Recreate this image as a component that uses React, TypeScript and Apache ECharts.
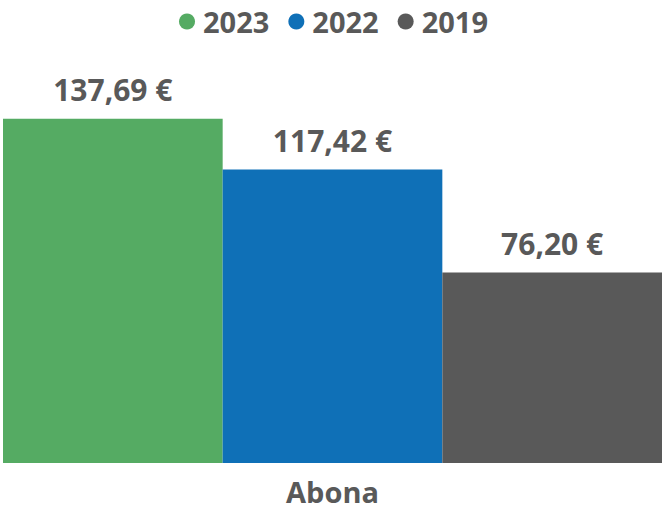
import React, { useEffect, useRef } from "react";
import * as echarts from "echarts";

const categories = ["Abona"];
const seriesNames = ["2023", "2022", "2019"];
const values2023 = [137.69];
const values2022 = [117.42];
const values2019 = [76.2];
const colors = ["#55AB63", "#0F70B7", "#595959"];
const textColor = "#595959";
const font = "'Open Sans', 'DejaVu Sans', sans-serif";

const fmt = (v: number) => v.toFixed(2).replace(".", ",") + " €";

export default function App() {
  const ref = useRef<HTMLDivElement>(null);
  useEffect(() => {
    if (!ref.current) return;
    const chart = echarts.init(ref.current, null, { renderer: "svg" });
    const data = [values2023, values2022, values2019];
    chart.setOption({
      animation: false,
      legend: {
        top: 2,
        left: "center",
        icon: "circle",
        itemWidth: 16,
        itemHeight: 16,
        itemGap: 19,
        textStyle: {
          color: textColor,
          fontSize: 29,
          fontWeight: "bold",
          fontFamily: font,
          padding: [0, 0, 0, 3],
        },
        data: seriesNames,
      },
      grid: { left: 3, right: 5, top: 63, bottom: 49, containLabel: false },
      xAxis: {
        type: "category",
        data: categories,
        axisLine: { show: false },
        axisTick: { show: false },
        axisLabel: {
          color: textColor,
          fontSize: 29,
          fontWeight: "bold",
          fontFamily: font,
          margin: 14,
        },
      },
      yAxis: {
        type: "value",
        min: 0,
        max: 160,
        show: false,
        splitLine: { show: false },
      },
      series: seriesNames.map((name, i) => ({
        name,
        type: "bar",
        data: data[i],
        barGap: "0%",
        barCategoryGap: "0%",
        itemStyle: { color: colors[i] },
        label: {
          show: true,
          position: "top",
          distance: 14,
          color: textColor,
          fontSize: 30,
          fontWeight: "bold",
          fontFamily: font,
          formatter: (p: any) => fmt(p.value),
        },
      })),
    });
    return () => chart.dispose();
  }, []);
  return <div ref={ref} style={{ width: 667, height: 512, position: "absolute", left: 0, top: 0 }} />;
}
